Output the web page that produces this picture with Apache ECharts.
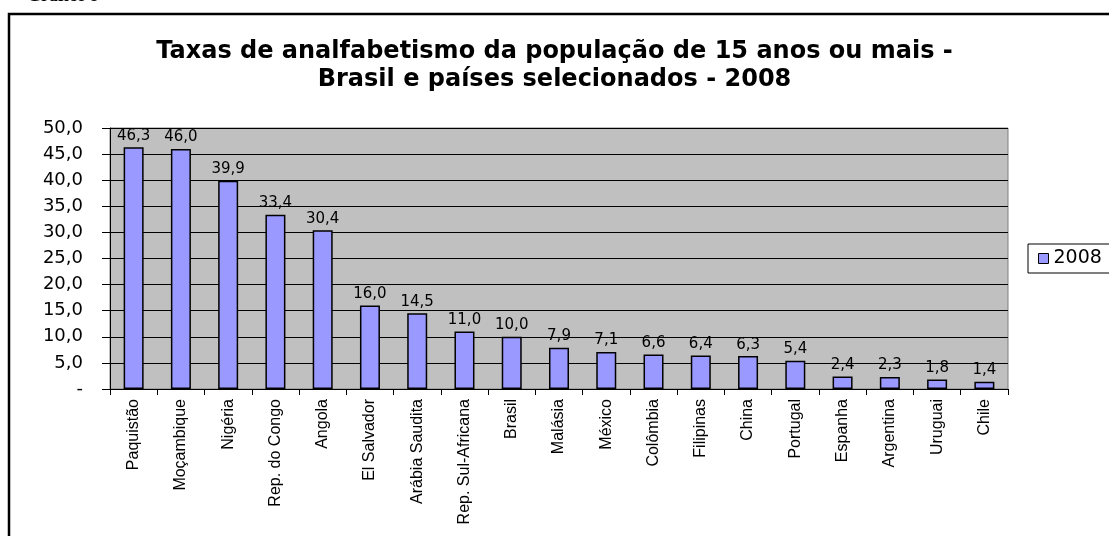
<!DOCTYPE html>
<html>
<head>
<meta charset="utf-8">
<script src="https://cdn.jsdelivr.net/npm/echarts@6/dist/echarts.min.js"></script>
<style>
  html, body { margin: 0; padding: 0; background: #fff; }
  #main { width: 1109px; height: 536px; }
</style>
</head>
<body>
<div id="main"></div>
<script>
const countries = ['Paquistão', 'Moçambique', 'Nigéria', 'Rep. do Congo', 'Angola', 'El Salvador',
    'Arábia Saudita', 'Rep. Sul-Africana', 'Brasil', 'Malásia', 'México', 'Colômbia', 'Filipinas',
    'China', 'Portugal', 'Espanha', 'Argentina', 'Uruguai', 'Chile'];
const taxas2008 = [46.3, 46.0, 39.9, 33.4, 30.4, 16.0, 14.5, 11.0, 10.0, 7.9, 7.1, 6.6, 6.4, 6.3, 5.4, 2.4, 2.3, 1.8, 1.4];
const seriesName = '2008';

function fmt(v) {
    // 0 aparece como "-" no original
    if (v === 0) return '-';
    return v.toFixed(1).replace('.', ',');
}

let myChart = echarts.init(document.getElementById('main'));

let option = {
    backgroundColor: '#fff',
    animation: false,
    title: {
        text: 'Taxas de analfabetismo da população de 15 anos ou mais -\nBrasil e países selecionados - 2008',
        left: 'center',
        top: 33,
        textStyle: {
            fontFamily: 'DejaVu Sans',
            fontWeight: 'bold',
            fontSize: 24,
            lineHeight: 28,
            color: '#000'
        }
    },
    graphic: [
        {
            type: 'rect',
            shape: { x: 9, y: 14, width: 1200, height: 600 },
            style: { fill: 'none', stroke: '#000', lineWidth: 2.5 },
            silent: true
        },
        {
            type: 'text',
            left: 27,
            top: -13,
            style: { text: 'Gráfico 9', font: 'bold 18px "Liberation Serif"', fill: '#000' },
            silent: true
        }
    ],
    legend: {
        data: [seriesName],
        left: 1028,
        top: 244,
        orient: 'vertical',
        icon: 'rect',
        itemWidth: 10,
        itemHeight: 10,
        padding: [5, 20, 5, 10],
        borderColor: '#000',
        borderWidth: 1,
        itemStyle: { borderColor: '#000', borderWidth: 1 },
        textStyle: { fontFamily: 'DejaVu Sans', fontSize: 19, color: '#000' }
    },
    grid: {
        left: 110,
        right: 101,
        top: 128,
        bottom: 147,
        show: true,
        backgroundColor: '#C0C0C0',
        borderColor: '#808080',
        borderWidth: 1
    },
    xAxis: {
        type: 'category',
        data: countries,
        axisLine: { lineStyle: { color: '#000', width: 1 } },
        axisTick: { show: true, length: 6, lineStyle: { color: '#000' } },
        axisLabel: {
            interval: 0,
            rotate: 90,
            margin: 10,
            fontFamily: 'Liberation Sans, Arial',
            fontSize: 16,
            color: '#000'
        }
    },
    yAxis: {
        type: 'value',
        min: 0,
        max: 50,
        interval: 5,
        axisLine: { show: true, lineStyle: { color: '#000', width: 1 } },
        axisTick: { show: true, length: 8, lineStyle: { color: '#000' } },
        splitLine: { lineStyle: { color: '#000', width: 1 } },
        axisLabel: {
            margin: 27,
            fontFamily: 'DejaVu Sans',
            fontSize: 18,
            color: '#000',
            formatter: fmt
        }
    },
    series: [{
        name: seriesName,
        type: 'bar',
        data: taxas2008,
        barWidth: 20,
        itemStyle: {
            color: '#9999FF',
            borderColor: '#000',
            borderWidth: 1.5
        },
        label: {
            show: true,
            position: 'top',
            distance: 4,
            fontFamily: 'DejaVu Sans',
            fontSize: 15,
            color: '#000',
            formatter: function (p) { return fmt(p.value); }
        }
    }]
};

myChart.setOption(option);
</script>
</body>
</html>
